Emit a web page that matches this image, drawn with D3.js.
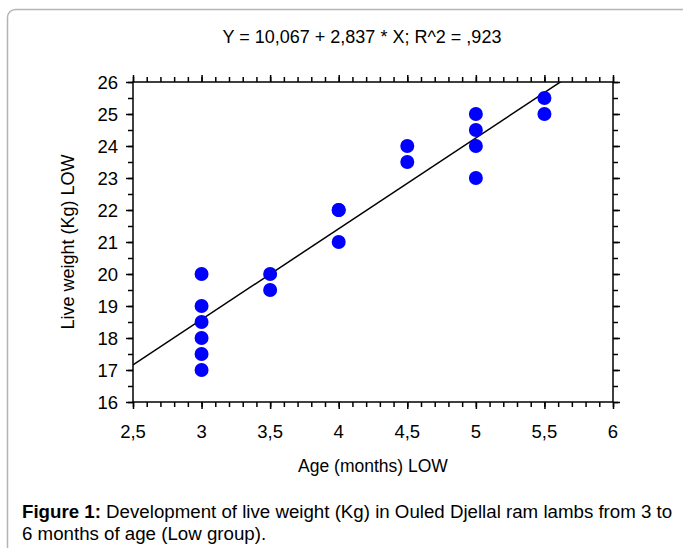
<!DOCTYPE html>
<html>
<head>
<meta charset="utf-8">
<script src="https://cdn.jsdelivr.net/npm/d3@7"></script>
<style>
  body { margin: 0; background: #fff; }
  svg { display: block; font-family: "Liberation Sans", Arial, sans-serif; }
</style>
</head>
<body>
<div id="chart"></div>
<script>
// Data
const ageMonths = [3, 3, 3, 3, 3, 3, 3.5, 3.5, 4, 4, 4, 4.5, 4.5, 5, 5, 5, 5, 5.5, 5.5];
const liveWeight = [20, 19, 18.5, 18, 17.5, 17, 20, 19.5, 22, 22, 21, 24, 23.5, 25, 24.5, 24, 23, 25.5, 25];
const xTicks = [2.5, 3, 3.5, 4, 4.5, 5, 5.5, 6];
const yTicks = [16, 17, 18, 19, 20, 21, 22, 23, 24, 25, 26];
const intercept = 10.067;
const slope = 2.837;
const titleText = "Y = 10,067 + 2,837 * X; R^2 = ,923";
const xLabel = "Age (months) LOW";
const yLabel = "Live weight (Kg) LOW";

const width = 683, height = 548;
const margin = { left: 133, right: 70, top: 82, bottom: 146 };

const svg = d3.select("#chart").append("svg")
  .attr("width", width).attr("height", height);

// rounded frame around the figure
svg.append("rect")
  .attr("x", 7.5).attr("y", 9.5)
  .attr("width", 690).attr("height", 560)
  .attr("rx", 8)
  .attr("fill", "none")
  .attr("stroke", "#b4b4b4")
  .attr("stroke-width", 1.5);

const x = d3.scaleLinear().domain([2.5, 6]).range([margin.left, width - margin.right]);
const y = d3.scaleLinear().domain([16, 26]).range([height - margin.bottom, margin.top]);

const locale = d3.formatLocale({ decimal: ",", thousands: ".", grouping: [3], currency: ["", ""] });
const fmt = locale.format("~g");

const xMinor = d3.range(25, 61).map(d => d / 10);
const yMinor = d3.range(32, 53).map(d => d / 2);

const plotW = x.range()[1] - x.range()[0];
const plotH = y.range()[0] - y.range()[1];

// ticks on all four sides, pointing outward
const axes = [
  [() => d3.axisBottom(x), `translate(0,${y(16)})`, xMinor, xTicks],
  [() => d3.axisTop(x), `translate(0,${y(26)})`, xMinor, xTicks],
  [() => d3.axisLeft(y), `translate(${x(2.5)},0)`, yMinor, yTicks],
  [() => d3.axisRight(y), `translate(${x(6)},0)`, yMinor, yTicks]
];
axes.forEach(([mk, tr, minor, major]) => {
  [[minor, 5], [major, 7]].forEach(([vals, size]) => {
    const g = svg.append("g").attr("transform", tr)
      .call(mk().tickValues(vals).tickSize(size).tickFormat(""));
    g.select(".domain").remove();
    g.selectAll("line").attr("stroke", "#000").attr("stroke-width", 1.5);
  });
});

// frame lines
svg.append("rect")
  .attr("x", x(2.5)).attr("y", y(26))
  .attr("width", plotW).attr("height", plotH)
  .attr("fill", "none").attr("stroke", "#000").attr("stroke-width", 1.5);

// tick labels
svg.append("g").selectAll("text").data(xTicks).join("text")
  .attr("x", d => x(d)).attr("y", y(16) + 36)
  .attr("text-anchor", "middle")
  .attr("font-size", 18.5)
  .text(d => fmt(d));

svg.append("g").selectAll("text").data(yTicks).join("text")
  .attr("x", x(2.5) - 15).attr("y", d => y(d) + 6.5)
  .attr("text-anchor", "end")
  .attr("font-size", 18.5)
  .text(d => fmt(d));

// regression line, clipped to plot
svg.append("clipPath").attr("id", "clip").append("rect")
  .attr("x", x(2.5)).attr("y", y(26)).attr("width", plotW).attr("height", plotH);

const lineX = [2.5, 6];
svg.append("path")
  .attr("clip-path", "url(#clip)")
  .attr("d", d3.line().x(d => x(d)).y(d => y(intercept + slope * d))(lineX))
  .attr("stroke", "#000").attr("stroke-width", 1.5).attr("fill", "none");

// points
svg.append("g").selectAll("circle").data(ageMonths).join("circle")
  .attr("cx", d => x(d))
  .attr("cy", (d, i) => y(liveWeight[i]))
  .attr("r", 7)
  .attr("fill", "#0000ff");

// titles
svg.append("text")
  .attr("x", 362).attr("y", 42.5)
  .attr("text-anchor", "middle").attr("font-size", 18)
  .text(titleText);

svg.append("text")
  .attr("x", x(4.25)).attr("y", 471.5)
  .attr("text-anchor", "middle").attr("font-size", 17.5)
  .text(xLabel);

svg.append("text")
  .attr("transform", `translate(74,${y(21)}) rotate(-90)`)
  .attr("text-anchor", "middle").attr("font-size", 18)
  .text(yLabel);

// caption
const cap = svg.append("text").attr("x", 22).attr("y", 518).attr("font-size", 18.7);
cap.append("tspan").attr("font-weight", "bold").text("Figure 1:");
cap.append("tspan").text(" Development of live weight (Kg) in Ouled Djellal ram lambs from 3 to");
svg.append("text").attr("x", 22).attr("y", 540).attr("font-size", 18.7)
  .text("6 months of age (Low group).");
</script>
</body>
</html>
